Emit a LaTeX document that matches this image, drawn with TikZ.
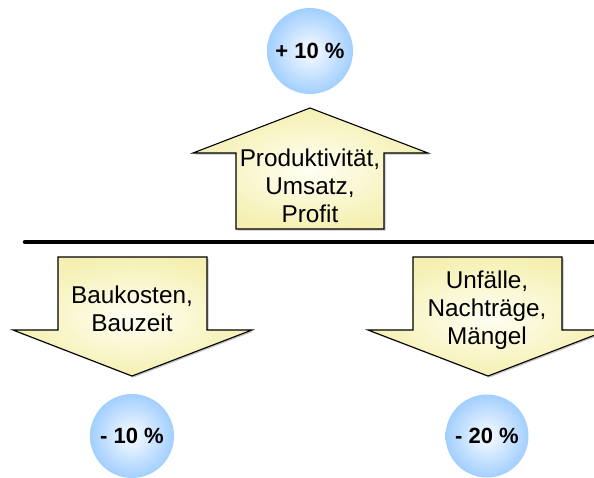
\documentclass[tikz,border=0pt]{standalone}
\usepackage{fontspec}
\setmainfont{Liberation Sans}
\usetikzlibrary{shadows}
\definecolor{arrowlight}{HTML}{FFFFF4}
\definecolor{arrowdark}{HTML}{F5F0B2}
\definecolor{ballin}{HTML}{FAFCFF}
\definecolor{ballout}{HTML}{A2CFFF}
\tikzset{
  arrowshape/.style={draw=black, line width=1.1pt, line join=miter,
    inner color=arrowlight, outer color=arrowdark,
    drop shadow={shadow xshift=1.5pt, shadow yshift=-1.5pt, opacity=0.4, fill=black!60}},
  arrowtext/.style={align=center, font=\fontsize{24.3}{28}\selectfont, inner sep=0pt},
  ball/.style={circle, inner sep=0pt, minimum size=#1, inner color=ballin, outer color=ballout,
    font=\fontsize{22}{26}\selectfont\bfseries},
  divider/.style={line width=4.5pt, line cap=round}
}
\begin{document}
\begin{tikzpicture}[x=1pt, y=-1pt]
\useasboundingbox (0,0) rectangle (594,477);
\clip (0,0) rectangle (594,477);
% divider line
\coordinate (lineL) at (25,242);
\coordinate (lineR) at (600,242);
\draw[divider] (lineL) -- (lineR);
% up arrow
\path[arrowshape] (310,108) -- (428,153) -- (384,153) -- (384,229) -- (236,229) -- (236,153) -- (193,153) -- cycle;
\node[arrowtext] (upt) at (310,186) {Produktivität,\\Umsatz,\\Profit};
% left down arrow
\path[arrowshape] (58,257) -- (207,257) -- (207,330) -- (252,330) -- (132,376) -- (13,330) -- (58,330) -- cycle;
\node[arrowtext] (leftt) at (132,309) {Baukosten,\\Bauzeit};
% right down arrow
\path[arrowshape] (413,257) -- (562,257) -- (562,330) -- (608,330) -- (488,376) -- (368,330) -- (413,330) -- cycle;
\node[arrowtext] (rightt) at (487,310) {Unfälle,\\Nachträge,\\Mängel};
% balls
\node[ball=86pt] (top) at (310,51) {+ 10 \%};
\node[ball=84pt] (bl) at (132,436) {- 10 \%};
\node[ball=83pt] (br) at (487,436) {- 20 \%};
\end{tikzpicture}
\end{document}
